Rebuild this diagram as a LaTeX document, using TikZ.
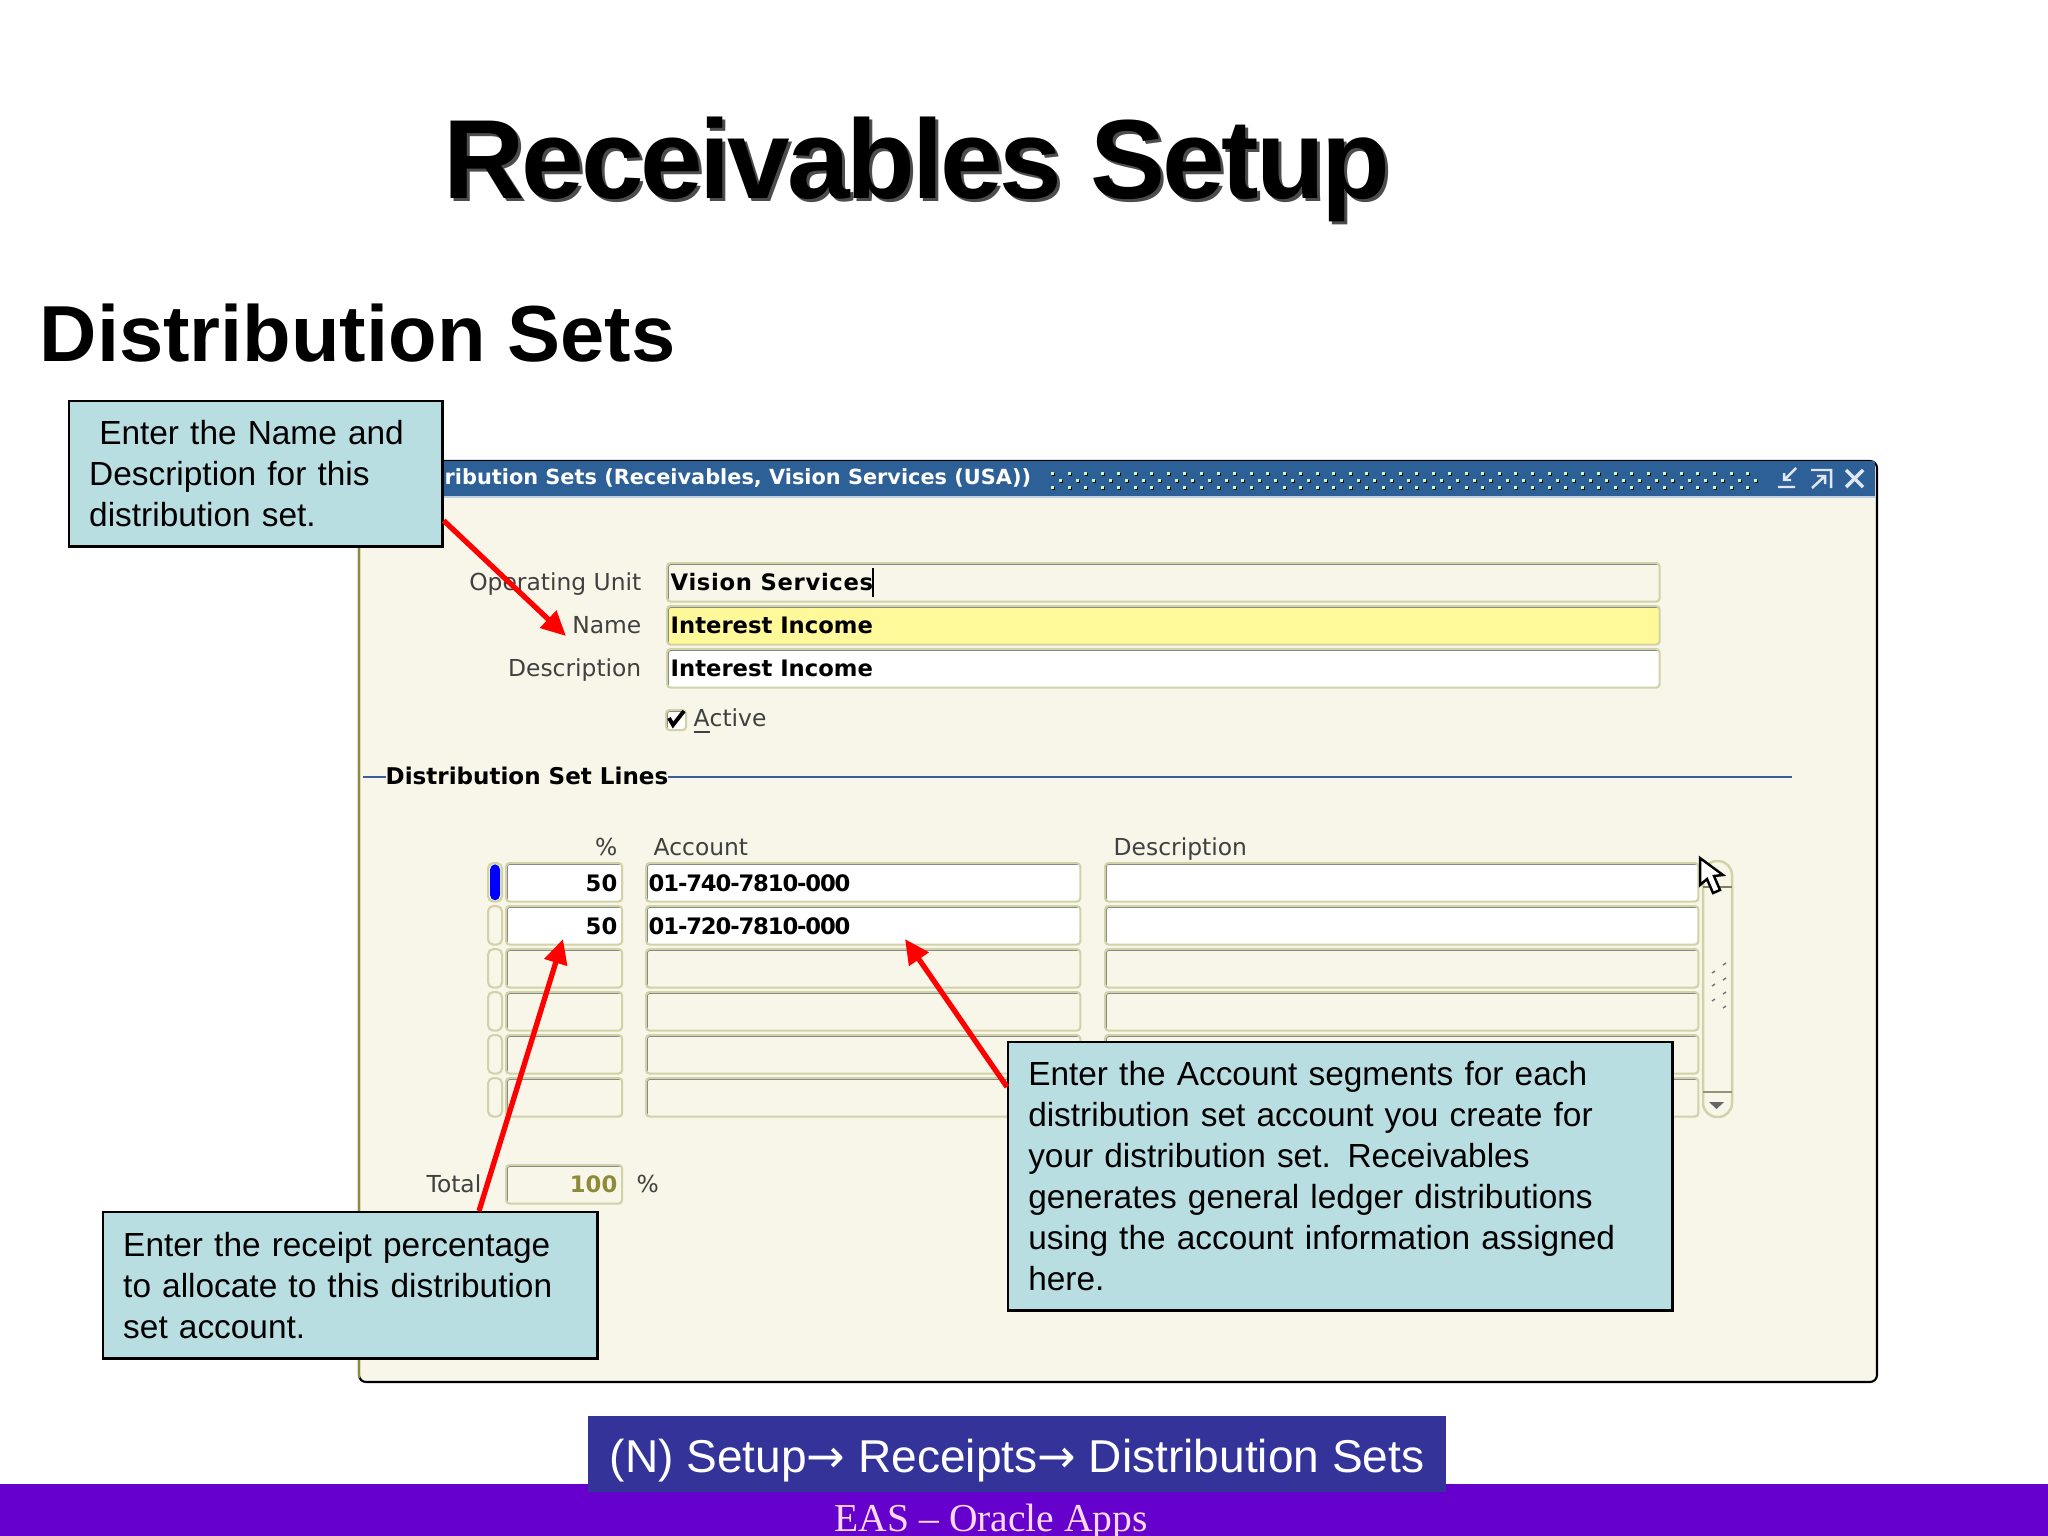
\documentclass[tikz,border=0pt]{standalone}
\usepackage{fontspec}
\setmainfont{Liberation Sans}
\newfontfamily\formfont{DejaVu Sans}
\newfontfamily\footfont{Liberation Serif}
\usetikzlibrary{arrows.meta}
\definecolor{notefill}{HTML}{B9DEE2}
\definecolor{winfill}{HTML}{F7F6E9}
\definecolor{barblue}{HTML}{2E6098}
\definecolor{navblue}{HTML}{333399}
\definecolor{footpurple}{HTML}{6600CC}
\definecolor{fieldedge}{HTML}{D2D2A8}
\definecolor{fieldyellow}{HTML}{FFF99A}
\definecolor{lineblue}{HTML}{3A5F99}
\tikzset{
  notebox/.style={draw=black, line width=0.7pt, fill=notefill, anchor=north west,
    align=left, inner sep=0pt, font=\fontsize{9.5}{11.65}\selectfont},
  field/.style={draw=fieldedge, line width=0.6pt, rounded corners=1pt, anchor=north west,
    inner sep=0pt, minimum height=0.385cm, fill=#1,
    path picture={\draw[gray, line width=1pt]
      (path picture bounding box.south west) -- (path picture bounding box.north west)
      -- (path picture bounding box.north east);}},
  field/.default=winfill,
  formlabel/.style={font=\formfont\fontsize{6.65}{7}\selectfont, inner sep=0pt, text=black!75,
    text height=6pt, text depth=1.5pt},
  formvalue/.style={font=\formfont\bfseries\fontsize{6.45}{7}\selectfont, inner sep=0pt,
    text height=6pt, text depth=1.5pt},
  pointer/.style={draw=red, line width=1.5pt, -{Triangle[length=7pt,width=6.5pt]}},
  winbutton/.style={draw=white!85!barblue, line width=0.7pt}
}
\begin{document}
\begin{tikzpicture}[x=0.01cm,y=-0.01cm]
  \useasboundingbox (0,0) rectangle (2048,1536);
  \fill[white] (0,0) rectangle (2048,1536);
  % slide headings
  \node[inner sep=0pt, text=black!70, font=\bfseries\addfontfeature{LetterSpace=-2.8}\fontsize{32}{36}\selectfont] (titleShade) at (920,172) {Receivables Setup};
  \node[inner sep=0pt, font=\bfseries\addfontfeature{LetterSpace=-2.8}\fontsize{32}{36}\selectfont] (slideTitle) at (917,169) {Receivables Setup};
  \node[inner sep=0pt, anchor=west, font=\bfseries\fontsize{22.6}{26}\selectfont] (subTitle) at (39,333) {Distribution Sets};
  % form window
  \draw[draw=black, line width=0.6pt, rounded corners=2pt, fill=winfill] (359,461) rectangle (1877,1382);
  \fill[barblue] (359,461) rectangle (1875,496);
  \draw[white!70!barblue, line width=0.4pt] (359,497) -- (1875,497);
  \draw[olive!60!gray, line width=0.5pt] (359,497) -- (359,1378);
  \node[inner sep=0pt, anchor=west, text=white, font=\formfont\bfseries\fontsize{5.93}{7}\selectfont] (barText) at (444,478) {ribution Sets (Receivables, Vision Services (USA))};
  \foreach \c in {0,...,42}
    \foreach \r/\o in {0/0, 1/8, 2/0}
    {
      \fill[black] (1051+\c*16.55+\o+1,472+\r*7+1) rectangle +(3,3);
      \fill[white!75!green] (1051+\c*16.55+\o,472+\r*7) rectangle +(3,3);
    }
  \draw[winbutton] (1796,468) -- (1784,480) (1784,473) -- (1784,480) -- (1791,480) (1778,487) -- (1795,487);
  \draw[winbutton] (1811,470) -- (1831,470) -- (1831,488) (1812,488) -- (1825,476) (1817,476) -- (1825,476) -- (1825,484);
  \draw[winbutton, line width=1pt] (1846,470) -- (1863,487) (1863,470) -- (1846,487);
  % top fields
  \node[formlabel, anchor=east] (unitLabel) at (642,583) {Operating Unit};
  \node[formlabel, anchor=east] (nameLabel) at (642,626) {Name};
  \node[formlabel, anchor=east] (descLabel) at (642,669) {Description};
  \node[field=winfill, minimum width=9.92cm] (unitField) at (666,562) {};
  \node[field=fieldyellow, minimum width=9.92cm] (nameField) at (666,605) {};
  \node[field=white, minimum width=9.92cm] (descField) at (666,648) {};
  \node[formvalue, anchor=west, font=\formfont\bfseries\addfontfeature{LetterSpace=3}\fontsize{6.45}{7}\selectfont] (unitValue) at (670,583) {Vision Services};
  \draw[black, line width=0.4pt] (873,568) -- (873,597);
  \node[formvalue, anchor=west] (nameValue) at (670,626) {Interest Income};
  \node[formvalue, anchor=west] (descValue) at (670,669) {Interest Income};
  \node[field=white, minimum width=0.2cm, minimum height=0.2cm] (activeBox) at (665,709) {};
  \draw[black, line width=1.1pt] (669,718) -- (673,725) -- (684,711);
  \node[formlabel, anchor=west] (activeLabel) at (693,719) {\underline{A}ctive};
  % lines region
  \draw[lineblue, line width=0.4pt] (363,777) -- (1792,777);
  \node[formvalue, anchor=west, fill=winfill, inner xsep=0pt, font=\formfont\bfseries\fontsize{6.55}{7}\selectfont] (linesLabel) at (385,777) {Distribution Set Lines};
  \node[formlabel, anchor=east] (pctHead) at (618,848) {\%};
  \node[formlabel, anchor=west] (acctHead) at (653,848) {Account};
  \node[formlabel, anchor=west] (lineDescHead) at (1113,848) {Description};
  \foreach \r/\fy/\cellcol in {1/862/white, 2/905/white, 3/948/winfill, 4/991/winfill, 5/1034/winfill, 6/1077/winfill}
  {
    \node[draw=fieldedge, line width=0.6pt, rounded corners=1.5pt, anchor=north west, inner sep=0pt,
      minimum width=0.14cm, minimum height=0.385cm] (mark\r) at (487,\fy) {};
    \node[field=\cellcol, minimum width=1.16cm] (pct\r) at (505,\fy) {};
    \node[field=\cellcol, minimum width=4.34cm] (acct\r) at (645,\fy) {};
    \node[field=\cellcol, minimum width=5.93cm] (desc\r) at (1104,\fy) {};
  }
  \node[fill=blue, rounded corners=1.5pt, inner sep=0pt, minimum width=0.1cm, minimum height=0.36cm] (currentMark) at (mark1) {};
  \node[formvalue, anchor=east] (pctOne) at (618,884) {50};
  \node[formvalue, anchor=east] (pctTwo) at (618,927) {50};
  \node[formvalue, anchor=west, font=\formfont\bfseries\addfontfeature{LetterSpace=-5}\fontsize{6.45}{7}\selectfont] (acctOne) at (648,884) {01-740-7810-000};
  \node[formvalue, anchor=west, font=\formfont\bfseries\addfontfeature{LetterSpace=-5}\fontsize{6.45}{7}\selectfont] (acctTwo) at (648,927) {01-720-7810-000};
  % scrollbar
  \draw[fieldedge, line width=0.7pt, rounded corners=4pt] (1703,861) rectangle (1732,1117);
  \draw[fieldedge!60!black, line width=0.5pt] (1703,887) -- (1732,887);
  \draw[fieldedge!70!black, line width=0.5pt] (1703,1092) -- (1732,1092);
  \fill[black!60] (1709,1102) -- (1724,1102) -- (1716.5,1109) -- cycle;
  \foreach \gx/\gy in {1723/965, 1712/973, 1723/980, 1712/986, 1723/994, 1712/1001, 1723/1008}
    \draw[black!55, line width=0.4pt] (\gx,\gy) -- +(3,-2);
  % pointer of the mouse
  \draw[fill=white, draw=black, line width=0.7pt] (1700,858) -- (1700,885) -- (1707,879) -- (1713,893) -- (1720,890) -- (1714,876) -- (1723,875) -- cycle;
  % total
  \node[formlabel, anchor=east] (totalLabel) at (482,1185) {Total};
  \node[field, minimum width=1.16cm] (totalField) at (505,1164) {};
  \node[formvalue, anchor=east, text=olive!60!gray] (totalValue) at (618,1185) {100};
  \node[formlabel, anchor=west] (totalPct) at (636,1185) {\%};
  % callouts
  \node[notebox, minimum width=3.73cm, minimum height=1.45cm, text width=3.33cm, inner xsep=0.2cm] (noteName) at (68,400)
    {\hspace*{0.1cm}Enter the Name and\\Description for this\\distribution set.};
  \node[notebox, minimum width=4.94cm, minimum height=1.46cm, text width=4.54cm, inner xsep=0.2cm] (notePercent) at (102,1211)
    {Enter the receipt percentage\\to allocate to this distribution\\set account.};
  \node[notebox, minimum width=6.64cm, minimum height=2.68cm, text width=6.24cm, inner xsep=0.2cm] (noteAccount) at (1007,1041)
    {Enter the Account segments for each\\distribution set account you create for\\your distribution set. Receivables\\generates general ledger distributions\\using the account information assigned\\here.};
  % pointers
  \coordinate (nameTip) at (566,636);
  \coordinate (pctTip) at (563,939);
  \coordinate (acctTip) at (905,939);
  \draw[pointer] (noteName.-14) -- (nameTip);
  \draw[pointer] (notePercent.30) -- (pctTip);
  \draw[pointer] (noteAccount.165) -- (acctTip);
  % footer
  \fill[footpurple] (0,1484) rectangle (2048,1536);
  \node[inner sep=0pt, anchor=west, text=white!85!magenta, font=\footfont\fontsize{11.25}{13}\selectfont] (footText) at (834,1522) {EAS – Oracle Apps};
  \node[fill=navblue, minimum width=8.58cm, minimum height=0.76cm, inner sep=0pt, text=white, text height=0.56cm, text depth=0.2cm, font=\fontsize{13.1}{15}\selectfont] (navBar) at (1017,1454)
    {(N) Setup{\formfont→} Receipts{\formfont→} Distribution Sets};
\end{tikzpicture}
\end{document}
